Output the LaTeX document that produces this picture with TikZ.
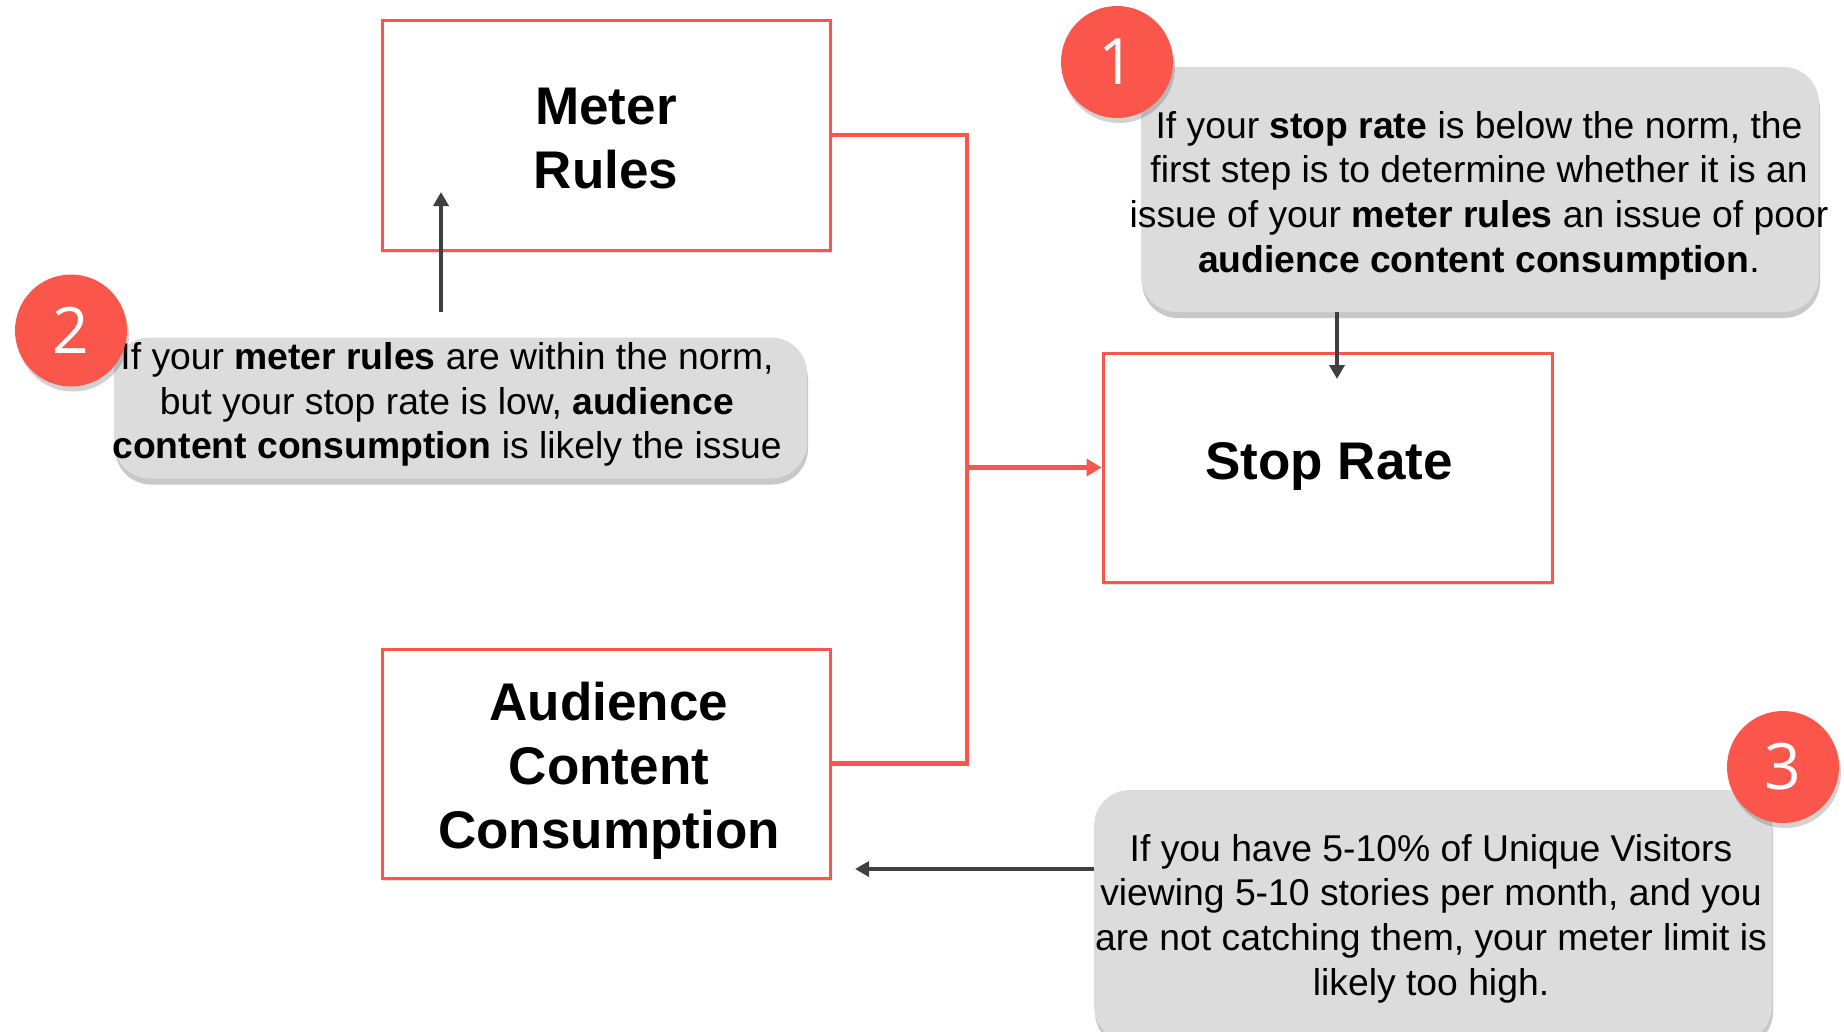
\documentclass[tikz,border=0pt]{standalone}
\usepackage{fontspec}
\setmainfont{Liberation Sans}
\newfontfamily\numfont{Open Sans}
\usetikzlibrary{shadows,arrows.meta}
\definecolor{myred}{HTML}{FA564C}
\definecolor{calloutgray}{HTML}{DCDCDC}
\definecolor{darkarrow}{HTML}{404040}
\tikzset{
  redbox/.style={draw=myred, line width=3pt, fill=white, align=center,
    drop shadow={shadow xshift=1pt, shadow yshift=-3pt, opacity=0.12, fill=black}},
  titletext/.style={align=center, font=\fontsize{53}{64}\selectfont\bfseries},
  callout/.style={fill=calloutgray, rounded corners=36pt, draw=none,
    drop shadow={shadow xshift=1pt, shadow yshift=-6pt, opacity=0.3, fill=black!70}},
  callouttext/.style={align=center, font=\fontsize{37.3}{44.6}\selectfont, inner sep=0pt},
  numcircle/.style={circle, fill=myred, minimum size=112pt, inner sep=0pt, text=white,
    font=\numfont\fontsize{64}{64}\selectfont,
    drop shadow={shadow xshift=2pt, shadow yshift=-5pt, opacity=0.25, fill=black!70}},
  redline/.style={draw=myred, line width=4.7pt},
  darkline/.style={draw=darkarrow, line width=4.6pt, -{Triangle[length=14pt,width=15pt]}}
}
\begin{document}
\begin{tikzpicture}[x=1pt,y=-1pt]
\clip (0,0) rectangle (1844,1031);
\fill[white] (0,0) rectangle (1844,1031);

% main boxes
\node[redbox, minimum width=448pt, minimum height=230pt] (meter) at (606,135) {};
\node[titletext] (metertext) at (606,139) {Meter\\Rules};
\node[redbox, minimum width=449pt, minimum height=229pt] (stop) at (1327.5,467.5) {};
\node[titletext] (stoptext) at (1329,466.5) {Stop Rate};
\node[redbox, minimum width=448pt, minimum height=229pt] (aud) at (606,763.5) {};
\node[titletext] (audtext) at (609,771) {Audience\\Content\\Consumption};

% red connector
\coordinate (jx) at (967,467.5);
\draw[redline] (meter.east) -| (jx) |- (aud.east);
\draw[redline, -{Triangle[length=15pt,width=17pt]}] (jx) -- (stop.west);

% callout 1
\node[callout, minimum width=678pt, minimum height=245pt] (c1) at (1480,189.5) {};
\node[callouttext] (t1) at (1479,195.5) {If your \textbf{stop rate} is below the norm, the\\first step is to determine whether it is an\\issue of your \textbf{meter rules} an issue of poor\\\textbf{audience content consumption}.};
\node[numcircle] (n1) at (1117,62) {1};

% callout 2
\node[callout, minimum width=693pt, minimum height=141pt] (c2) at (460.5,408) {};
\node[callouttext] (t2) at (447,404.5) {If your \textbf{meter rules} are within the norm,\\but your stop rate is low, \textbf{audience}\\\textbf{content consumption} is likely the issue};
\node[numcircle] (n2) at (71,330.5) {2};

% callout 3
\node[callout, minimum width=678pt, minimum height=252pt] (c3) at (1433,916) {};
\node[callouttext] (t3) at (1431,918.5) {If you have 5-10\% of Unique Visitors\\viewing 5-10 stories per month, and you\\are not catching them, your meter limit is\\likely too high.};
\node[numcircle] (n3) at (1783,767) {3};

% dark arrows
\coordinate (a1end) at (1337,379);
\draw[darkline] (c1.south -| a1end) -- (a1end);
\coordinate (a2start) at (441,312);
\coordinate (a2end) at (441,192);
\draw[darkline] (a2start) -- (a2end);
\coordinate (a3end) at (855,869);
\draw[darkline] (c3.west |- a3end) -- (a3end);
\end{tikzpicture}
\end{document}
